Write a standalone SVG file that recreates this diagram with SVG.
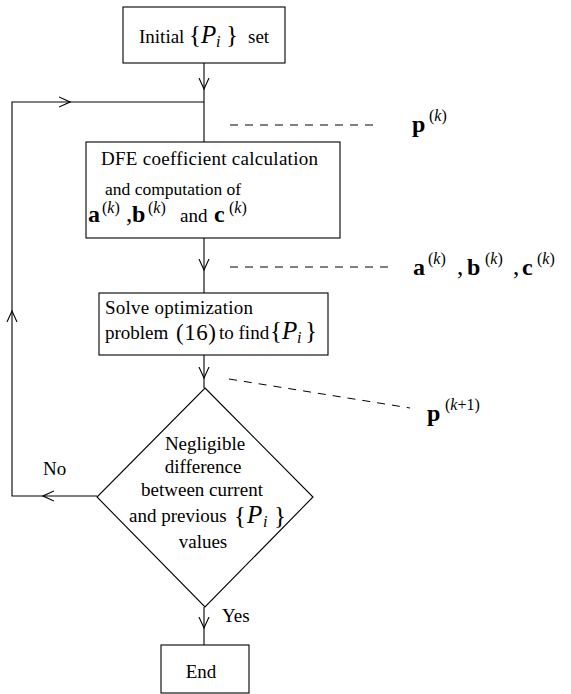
<svg xmlns="http://www.w3.org/2000/svg" width="571" height="694" viewBox="0 0 571 694">
<style>
.t,.bv,.sup,.br{font-family:'Liberation Serif',serif;fill:#000}
.t{font-size:19px}
.m{text-anchor:middle}
.bv{font-size:24px;font-weight:bold}
.sup{font-size:16px}
.it{font-style:italic}
.br{font-size:25px}
.box{fill:#fff;stroke:#000;stroke-width:1.1}
.ln{fill:none;stroke:#000;stroke-width:1.1}
.dash{fill:none;stroke:#000;stroke-width:1;stroke-dasharray:8,7}
</style>
<defs>
<marker id="v" markerUnits="userSpaceOnUse" markerWidth="12" markerHeight="12" viewBox="0 0 12 12" refX="11" refY="6" orient="auto">
<path d="M0,1 L11,6 L0,11" fill="none" stroke="#000" stroke-width="1.1"/>
</marker>
</defs>

<g id="connectors">
<line class="ln" x1="204" y1="63" x2="204" y2="89" marker-end="url(#v)"/>
<line class="ln" x1="204" y1="89" x2="204" y2="142"/>
<line class="ln" x1="204" y1="238" x2="204" y2="270" marker-end="url(#v)"/>
<line class="ln" x1="204" y1="270" x2="204" y2="293"/>
<line class="ln" x1="204" y1="355" x2="204" y2="378" marker-end="url(#v)"/>
<line class="ln" x1="204" y1="378" x2="204" y2="388"/>
<line class="ln" x1="204" y1="607" x2="204" y2="628" marker-end="url(#v)"/>
<line class="ln" x1="204" y1="628" x2="204" y2="645"/>
<line class="ln" x1="97" y1="496" x2="43" y2="496" marker-end="url(#v)"/>
<polyline class="ln" points="43,496 12,496 12,311" marker-end="url(#v)"/>
<polyline class="ln" points="12,311 12,102 70,102" marker-end="url(#v)"/>
<line class="ln" x1="70" y1="102" x2="204" y2="102"/>
<line class="dash" x1="230" y1="125" x2="380" y2="125"/>
<line class="dash" x1="230" y1="267" x2="393" y2="267"/>
<line class="dash" x1="229" y1="379" x2="410" y2="408"/>
</g>

<g id="init" font-family="'Liberation Serif', serif">
<rect class="box" x="123" y="7" width="162" height="56"/>
<text class="t" x="139" y="43">Initial</text>
<text class="br" x="189" y="43">{</text>
<text class="br it" x="201" y="43">P</text>
<text class="sup it" x="216" y="47">i</text>
<text class="br" x="226" y="43">}</text>
<text class="t" x="248" y="43">set</text>
</g>

<g id="dfe" font-family="'Liberation Serif', serif">
<rect class="box" x="86" y="142" width="254" height="96"/>
<text class="t" x="101" y="165" textLength="217">DFE coefficient calculation</text>
<text class="t" x="105" y="195" style="font-size:17.5px">and computation of</text>
<text class="bv" x="88" y="222">a</text>
<text class="sup" x="102" y="213">(<tspan class="it">k</tspan>)</text>
<text class="br" x="126" y="222">,</text>
<text class="bv" x="132" y="222">b</text>
<text class="sup" x="148" y="213">(<tspan class="it">k</tspan>)</text>
<text class="t" x="180" y="222">and</text>
<text class="bv" x="214" y="222">c</text>
<text class="sup" x="229" y="213">(<tspan class="it">k</tspan>)</text>
</g>

<g id="solve" font-family="'Liberation Serif', serif">
<rect class="box" x="99" y="293" width="229" height="62"/>
<text class="t" x="105" y="314" textLength="148">Solve optimization</text>
<text class="t" x="105" y="339">problem</text>
<text class="br" x="176" y="340" style="font-size:23px" textLength="40">(16)</text>
<text class="t" x="219" y="339">to find</text>
<text class="br" x="270" y="339">{</text>
<text class="br it" x="282" y="339">P</text>
<text class="sup it" x="297" y="343">i</text>
<text class="br" x="305" y="339">}</text>
</g>

<g id="decision" font-family="'Liberation Serif', serif">
<polygon class="box" points="205,388 313,497 205,607 97,497"/>
<text class="t m" x="205" y="450">Negligible</text>
<text class="t m" x="203" y="473">difference</text>
<text class="t m" x="202" y="496">between current</text>
<text class="t" x="129" y="522">and previous</text>
<text class="br" x="234" y="524">{</text>
<text class="br it" x="247" y="523">P</text>
<text class="sup it" x="263" y="527">i</text>
<text class="br" x="274" y="524">}</text>
<text class="t m" x="203" y="548">values</text>
</g>

<g id="end" font-family="'Liberation Serif', serif">
<rect class="box" x="161" y="645" width="88" height="48"/>
<text class="t m" x="201" y="678">End</text>
</g>

<g id="labels" font-family="'Liberation Serif', serif">
<text class="t" x="43" y="475">No</text>
<text class="t" x="222" y="622">Yes</text>
<text class="bv" x="412" y="132">p</text>
<text class="sup" x="429" y="121">(<tspan class="it">k</tspan>)</text>
<text class="bv" x="413" y="275">a</text>
<text class="sup" x="428" y="264">(<tspan class="it">k</tspan>)</text>
<text class="br" x="457" y="275">,</text>
<text class="bv" x="467" y="275">b</text>
<text class="sup" x="485" y="264">(<tspan class="it">k</tspan>)</text>
<text class="br" x="513" y="275">,</text>
<text class="bv" x="522" y="275">c</text>
<text class="sup" x="537" y="264">(<tspan class="it">k</tspan>)</text>
<text class="bv" x="427" y="421">p</text>
<text class="sup" x="445" y="410">(<tspan class="it">k</tspan>+1)</text>
</g>
</svg>
